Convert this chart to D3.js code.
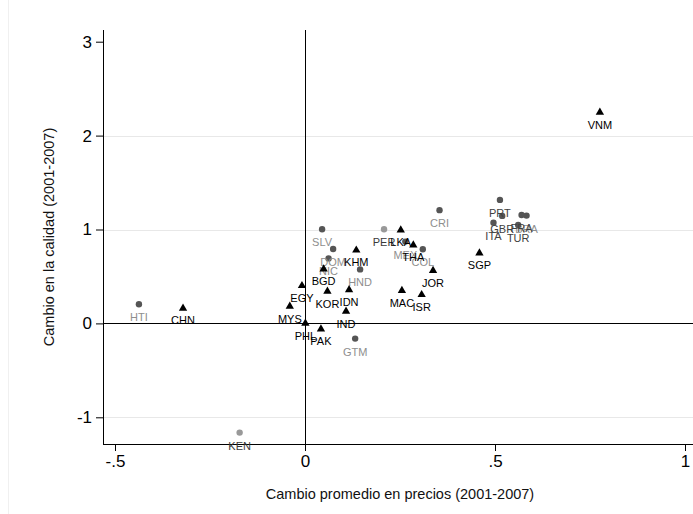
<!DOCTYPE html>
<html>
<head>
<meta charset="utf-8">
<script src="https://cdn.jsdelivr.net/npm/d3@7"></script>
<style>
  html, body { margin: 0; padding: 0; background: #fff; }
  svg { display: block; font-family: "Liberation Sans", Arial, sans-serif; }
</style>
</head>
<body>
<svg id="chart" width="693" height="514"></svg>
<script>
// Country codes and values: x = average price change, y = quality change (2001-2007)
// Asia / Middle East (black triangles)
const asiaCodes = ["CHN","MYS","EGY","PHL","PAK","BGD","KOR","IDN","IND","KHM","LKA","THA","MAC","ISR","JOR","SGP","VNM"];
const asiaX     = [-0.321,-0.040,-0.008,0.001,0.042,0.049,0.059,0.116,0.108,0.135,0.252,0.285,0.255,0.307,0.337,0.459,0.776];
const asiaY     = [0.170,0.190,0.410,0.009,-0.051,0.586,0.349,0.367,0.136,0.788,1.003,0.843,0.357,0.314,0.570,0.758,2.256];

// Latin America (dark circles, light labels)
const latamCodes = ["HTI","SLV","DOM","NIC","HND","GTM","CRI","MEX","COL","BRA"];
const latamX     = [-0.437,0.045,0.074,0.062,0.145,0.132,0.354,0.264,0.310,0.583];
const latamY     = [0.204,1.003,0.793,0.692,0.575,-0.162,1.206,0.871,0.790,1.148];

// Europe / Turkey (dark circles, dark labels)
const euroCodes = ["PRT","GBR","ITA","FRA","TUR"];
const euroX     = [0.513,0.519,0.496,0.570,0.561];
const euroY     = [1.315,1.145,1.073,1.155,1.049];

// Others (light circles, dark labels)
const otherCodes = ["PER","KEN"];
const otherX     = [0.208,-0.172];
const otherY     = [1.003,-1.163];

const xTicks = [-0.5, 0, 0.5, 1];
const xTickLabels = ["-.5", "0", ".5", "1"];
const yTicks = [-1, 0, 1, 2, 3];
const yTickLabels = ["-1", "0", "1", "2", "3"];
const yGrid = [-1, 1, 2];

const xTitle = "Cambio promedio en precios (2001-2007)";
const yTitle = "Cambio en la calidad (2001-2007)";

function rows(codes, xs, ys) {
  return codes.map((c, i) => ({ code: c, x: xs[i], y: ys[i] }));
}

const groups = [
  { data: rows(latamCodes, latamX, latamY), shape: "circle", fill: "#555555", label: "#8e8e8e" },
  { data: rows(otherCodes, otherX, otherY), shape: "circle", fill: "#999999", label: "#3a3a3a" },
  { data: rows(euroCodes, euroX, euroY),    shape: "circle", fill: "#555555", label: "#404040" },
  { data: rows(asiaCodes, asiaX, asiaY),    shape: "triangle", fill: "#000000", label: "#000000" }
];

const svg = d3.select("#chart");

const x = d3.scaleLinear().domain([-0.5, 1]).range([115, 685]);
const y = d3.scaleLinear().domain([-1, 3]).range([417.3, 41.7]);

// plot region (with inner margin around the scale range)
const plotL = 103, plotR = 697, plotT = 30, plotB = 444;

// faint frame of the graph region
svg.append("line").attr("x1", 8.5).attr("x2", 8.5).attr("y1", 0).attr("y2", 514)
  .attr("stroke", "#f0f0f0").attr("stroke-width", 1);

// gridlines
svg.append("g").selectAll("line").data(yGrid).join("line")
  .attr("x1", plotL).attr("x2", plotR)
  .attr("y1", d => Math.round(y(d)) + 0.5).attr("y2", d => Math.round(y(d)) + 0.5)
  .attr("stroke", "#e8e8e8").attr("stroke-width", 1.2);

// reference lines at zero
svg.append("line")
  .attr("x1", plotL).attr("x2", plotR)
  .attr("y1", Math.round(y(0)) + 0.5).attr("y2", Math.round(y(0)) + 0.5)
  .attr("stroke", "#000").attr("stroke-width", 1);
svg.append("line")
  .attr("x1", Math.round(x(0)) + 0.5).attr("x2", Math.round(x(0)) + 0.5)
  .attr("y1", plotT).attr("y2", plotB)
  .attr("stroke", "#000").attr("stroke-width", 1);

// axes
const yAxis = d3.axisLeft(y).tickValues(yTicks)
  .tickFormat((d, i) => yTickLabels[i]).tickSize(7).tickPadding(4).tickSizeOuter(0);
const gy = svg.append("g").attr("transform", `translate(${plotL},0)`).call(yAxis);
gy.select(".domain").remove();
gy.append("line").attr("x1", 0.5).attr("x2", 0.5).attr("y1", plotT).attr("y2", plotB)
  .attr("stroke", "#000");
gy.selectAll(".tick line").attr("stroke", "#000");
gy.selectAll(".tick text").attr("font-size", 17).attr("fill", "#000")
  .attr("font-family", "Liberation Sans, Arial, sans-serif");

const xAxis = d3.axisBottom(x).tickValues(xTicks)
  .tickFormat((d, i) => xTickLabels[i]).tickSize(7).tickPadding(4).tickSizeOuter(0);
const gx = svg.append("g").attr("transform", `translate(0,${plotB})`).call(xAxis);
gx.select(".domain").remove();
gx.append("line").attr("x1", plotL).attr("x2", plotR).attr("y1", 0.5).attr("y2", 0.5)
  .attr("stroke", "#000");
gx.selectAll(".tick line").attr("stroke", "#000");
gx.selectAll(".tick text").attr("font-size", 17).attr("fill", "#000")
  .attr("font-family", "Liberation Sans, Arial, sans-serif");

// axis titles
svg.append("text").attr("x", 400).attr("y", 499)
  .attr("text-anchor", "middle").attr("font-size", 14.5).attr("fill", "#111")
  .text(xTitle);
svg.append("text")
  .attr("transform", "translate(54,237) rotate(-90)")
  .attr("text-anchor", "middle").attr("font-size", 14.5).attr("fill", "#111")
  .text(yTitle);

// markers and labels
const tri = d3.symbol().type(d3.symbolTriangle).size(30);
groups.forEach(g => {
  const layer = svg.append("g");
  if (g.shape === "circle") {
    layer.selectAll("circle").data(g.data).join("circle")
      .attr("cx", d => x(d.x)).attr("cy", d => y(d.y)).attr("r", 3.2)
      .attr("fill", g.fill);
  } else {
    layer.selectAll("path").data(g.data).join("path")
      .attr("d", tri)
      .attr("transform", d => `translate(${x(d.x)},${y(d.y) + 0.8})`)
      .attr("fill", g.fill);
  }
  layer.selectAll("text").data(g.data).join("text")
    .attr("x", d => x(d.x)).attr("y", d => y(d.y) + 17)
    .attr("text-anchor", "middle").attr("font-size", 11)
    .attr("fill", g.label)
    .text(d => d.code);
});
</script>
</body>
</html>
